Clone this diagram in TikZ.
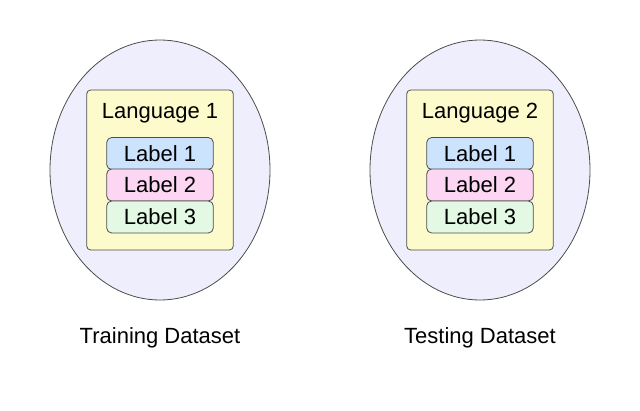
\documentclass[tikz,border=0pt]{standalone}
\usepackage{fontspec}
\setmainfont{Liberation Sans}
\usepackage{xcolor}

\definecolor{linegray}{HTML}{4D4D4D}
\definecolor{setfill}{HTML}{EEEEFC}
\definecolor{langfill}{HTML}{FDFBCC}
\definecolor{lblblue}{HTML}{CCE3FD}
\definecolor{lblpink}{HTML}{FDD6F4}
\definecolor{lblgreen}{HTML}{E3F9E3}

\begin{document}
\begin{tikzpicture}[x=1pt,y=-1pt,
  txt/.style={font=\fontsize{22}{24}\selectfont},
  dataset/.style={draw=linegray, fill=setfill, line width=0.8pt},
  langbox/.style={draw=linegray, fill=langfill, line width=0.8pt,
    rounded corners=4pt, minimum width=146.6pt, minimum height=160pt, inner sep=0pt},
  labelbox/.style={txt, draw=linegray, line width=0.8pt, rounded corners=5pt,
    minimum width=106.6pt, minimum height=32pt, inner sep=0pt}]
  % page frame
  \useasboundingbox (0,0) rectangle (640,410);

  % one set per dataset: ellipse, language box, three labels, caption
  \foreach \i/\cx/\name in {1/160/Training, 2/480/Testing}{
    \coordinate (set\i) at (\cx,170);
    \draw[dataset] (set\i) ellipse [x radius=110pt, y radius=130pt];
    \node[langbox] (lang\i) at (\cx,170) {};
    \node[txt] (langtxt\i) at (\cx,113.5) {Language \i};

    \node[labelbox, fill=lblblue]  (lab\i a) at (\cx,153.5) {Label 1};
    \node[labelbox, fill=lblpink]  (lab\i b) at (\cx,185)   {Label 2};
    \node[labelbox, fill=lblgreen] (lab\i c) at (\cx,217)   {Label 3};

    \node[txt] (cap\i) at (\cx,338) {\name\ Dataset};
  }
\end{tikzpicture}
\end{document}
